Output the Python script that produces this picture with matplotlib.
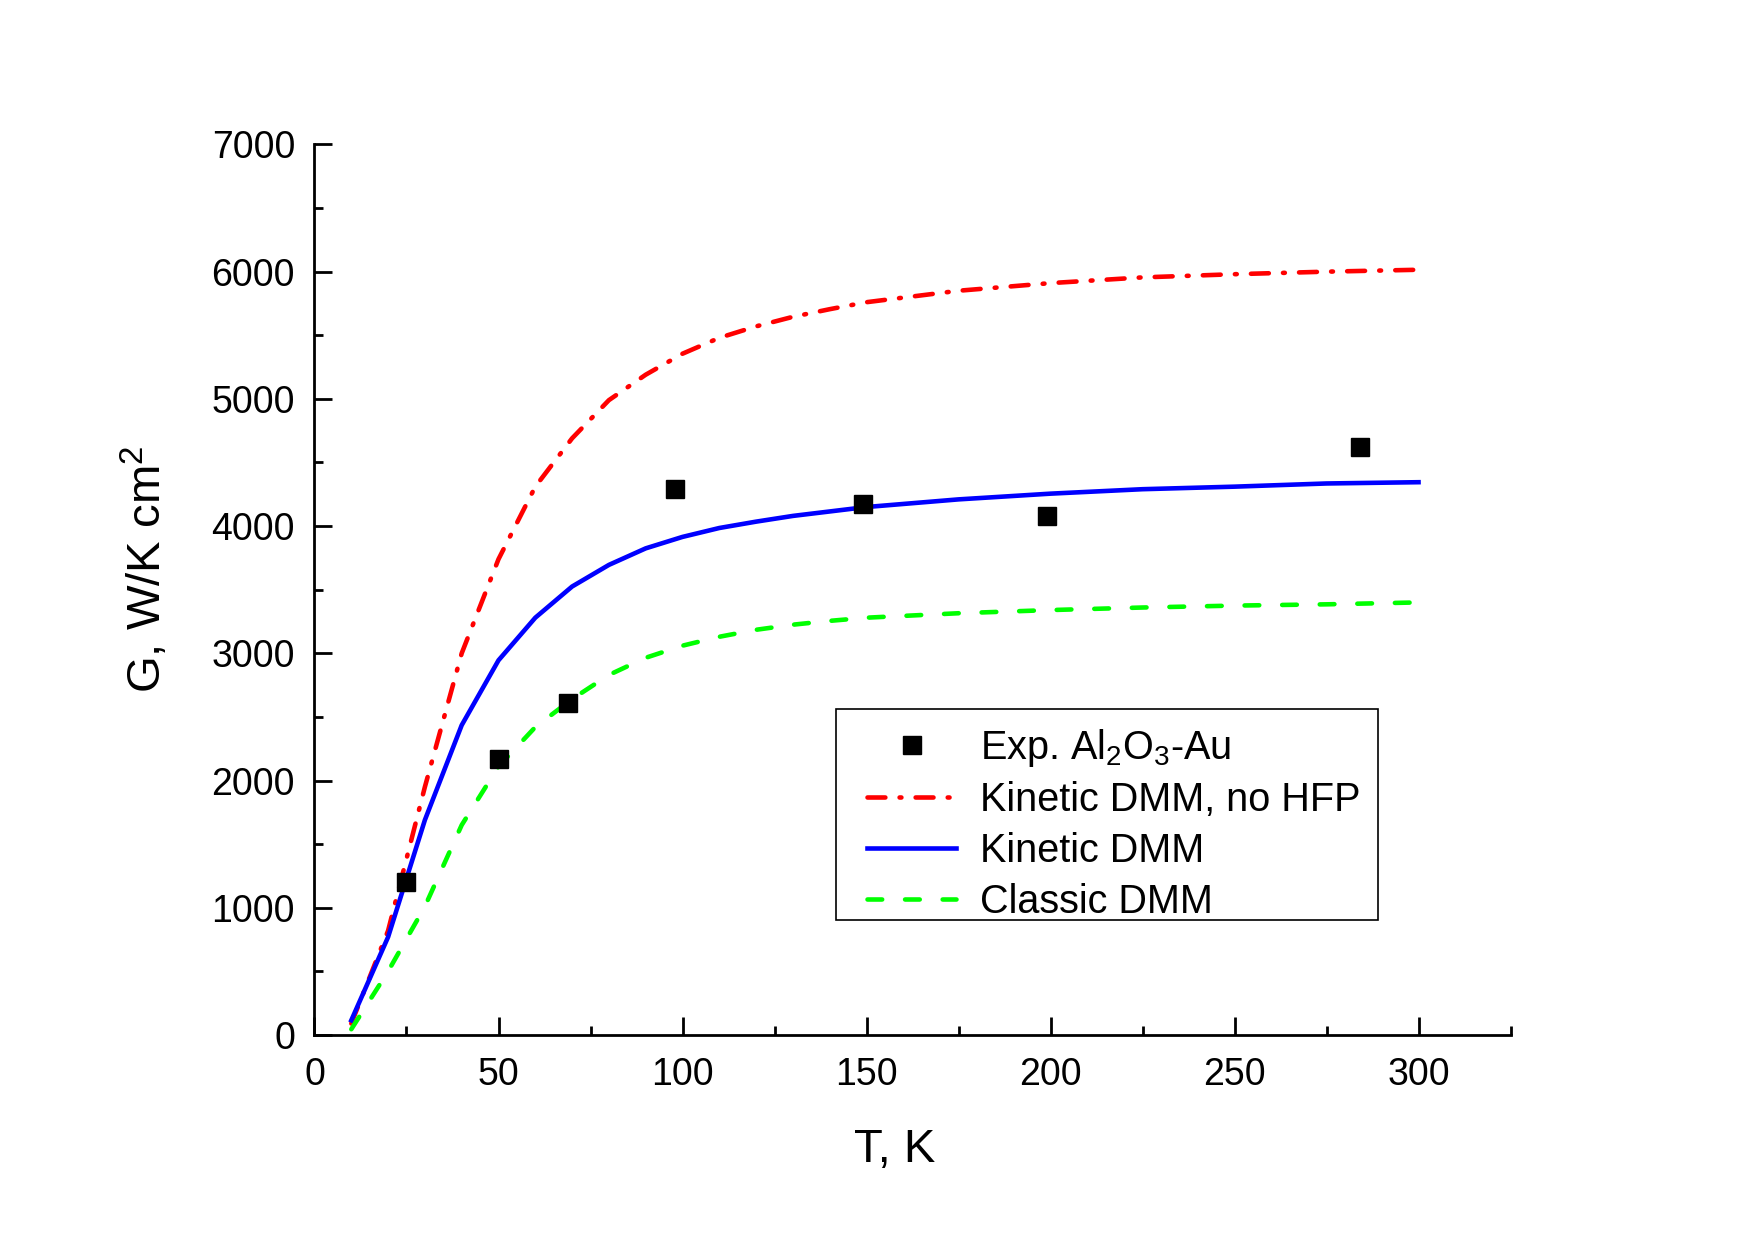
import numpy as np
import matplotlib
matplotlib.use('Agg')
import matplotlib.pyplot as plt
from matplotlib.ticker import MultipleLocator
from matplotlib.patches import Rectangle

plt.rcParams['font.family'] = ['Liberation Sans', 'DejaVu Sans']
plt.rcParams['mathtext.fontset'] = 'custom'
plt.rcParams['mathtext.rm'] = 'Liberation Sans'

# experimental points
t_exp = [25, 50, 69, 98, 149, 199, 284]
g_exp = [1200, 2170, 2610, 4290, 4170, 4080, 4620]

# model curves
t_mod = [10, 20, 30, 40, 50, 60, 70, 80, 90, 100, 110, 120, 130, 140, 150,
         175, 200, 225, 250, 275, 300]
g_nohfp = [90, 820, 1950, 3000, 3740, 4310, 4690, 4990, 5190, 5355, 5480, 5570,
           5645, 5705, 5760, 5850, 5910, 5955, 5980, 6000, 6015]
g_kin = [115, 770, 1690, 2435, 2945, 3280, 3525, 3695, 3825, 3915, 3985, 4035,
         4080, 4115, 4150, 4210, 4255, 4290, 4310, 4335, 4345]
g_cls = [45, 500, 1010, 1650, 2110, 2420, 2640, 2830, 2965, 3060, 3130, 3185,
         3225, 3255, 3280, 3315, 3340, 3360, 3375, 3385, 3400]

fig = plt.figure(figsize=(17.55, 12.42), dpi=100)
ax = fig.add_axes([0.1792, 0.1667, 0.6815, 0.717])

lw = 3.3
ax.plot(t_exp, g_exp, 's', color='black', ms=13.5,
        label=r'Exp. Al$_\mathregular{2}$O$_\mathregular{3}$-Au', zorder=5)
ax.plot(t_mod, g_nohfp, color='#ff0000', lw=lw, dashes=(3.9, 3.1, 0.4, 3.1),
        dash_capstyle='round', label='Kinetic DMM, no HFP')
ax.plot(t_mod, g_kin, color='#0000ff', lw=lw, label='Kinetic DMM')
ax.plot(t_mod, g_cls, color='#00ff00', lw=lw, dashes=(3.2, 5.0),
        dash_capstyle='round', label='Classic DMM')

ax.set_xlim(0, 325)
ax.set_ylim(0, 7000)
ax.set_xticks([0, 50, 100, 150, 200, 250, 300])
ax.xaxis.set_minor_locator(MultipleLocator(25))
ax.yaxis.set_major_locator(MultipleLocator(1000))
ax.yaxis.set_minor_locator(MultipleLocator(500))

for s in ['top', 'right']:
    ax.spines[s].set_visible(False)
for s in ['left', 'bottom']:
    ax.spines[s].set_linewidth(2.0)

ax.tick_params(which='major', direction='in', length=13, width=2.0, labelsize=27)
ax.tick_params(axis='x', which='major', pad=16)
ax.tick_params(axis='y', which='major', pad=14)
ax.tick_params(which='minor', direction='in', length=6.5, width=2.0)

ax.set_xlabel('T, K', fontsize=34)
ax.xaxis.set_label_coords(0.485, -0.105)
ax.xaxis.label.set_va('top')
ax.set_ylabel(r'G, W/K cm$^\mathregular{2}$', fontsize=34)
ax.yaxis.set_label_coords(-0.1195, 0.523)

# legend without its own frame, box drawn separately
leg = ax.legend(loc='upper left', bbox_to_anchor=(0.4618, 0.3462), borderaxespad=0,
                fontsize=28.5, frameon=False, borderpad=0,
                handlelength=2.26, handletextpad=0.61, labelspacing=0.32)
ax.add_patch(Rectangle((0.4359, 0.129), 0.453, 0.2374, transform=ax.transAxes,
                       fill=False, edgecolor='black', lw=1.2, clip_on=False))

fig.savefig('out.png', dpi=100)
